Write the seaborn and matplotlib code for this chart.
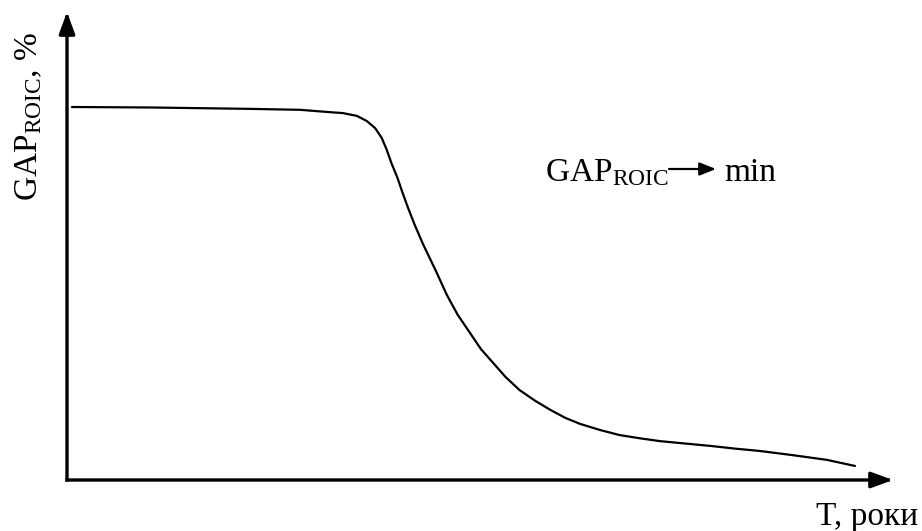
import matplotlib
matplotlib.use("Agg")
import matplotlib.pyplot as plt
from matplotlib.patches import FancyArrowPatch
import seaborn as sns
import pandas as pd

# крива GAP_ROIC у часі (умовні одиниці)
t_years = [0.06, 1.00, 2.22, 2.82, 3.18, 3.34, 3.51, 3.63, 3.73, 3.81, 3.87,
           3.93, 4.00, 4.06, 4.13, 4.21, 4.31, 4.46, 4.60, 4.73, 4.88, 5.01,
           5.16, 5.31, 5.48, 5.67, 5.85, 6.03, 6.21, 6.45, 6.69, 6.94, 7.18,
           7.48, 7.78, 8.09, 8.39, 8.79, 9.20, 9.54]
gap_roic = [7.97, 7.96, 7.93, 7.91, 7.86, 7.84, 7.78, 7.67, 7.52, 7.31, 7.06,
            6.76, 6.46, 6.15, 5.81, 5.45, 5.04, 4.49, 3.95, 3.53, 3.14, 2.80,
            2.50, 2.20, 1.92, 1.69, 1.50, 1.33, 1.20, 1.07, 0.96, 0.89, 0.83,
            0.78, 0.73, 0.67, 0.62, 0.53, 0.43, 0.30]

ylabel_text = r"GAP$_{\mathrm{ROIC}}$, %"
xlabel_text = "T, роки"
goal_left = r"GAP$_{\mathrm{ROIC}}$"
goal_right = "min"

df = pd.DataFrame({"T": t_years, "GAP": gap_roic})

sns.set_theme(style="white")
plt.rcParams["font.family"] = ["Liberation Serif", "DejaVu Serif"]
plt.rcParams["text.color"] = "black"
plt.rcParams["mathtext.fontset"] = "custom"
plt.rcParams["mathtext.rm"] = "Liberation Serif"
plt.rcParams["mathtext.it"] = "Liberation Serif:italic"

W, H = 922, 531
fig = plt.figure(figsize=(W / 100, H / 100), dpi=100)
ax = fig.add_axes([67 / W, 51 / H, (893 - 67) / W, (480 - 12) / H])

line = sns.lineplot(data=df, x="T", y="GAP", color="black", linewidth=1.6,
                    sort=False, ax=ax)
ax.lines[0].set_solid_joinstyle("round")
ax.set_xlim(0, 10)
ax.set_ylim(0, 10)
ax.set_xticks([])
ax.set_yticks([])
ax.set_xlabel("")
ax.set_ylabel("")
for s in ax.spines.values():
    s.set_visible(False)

# осі зі стрілками
arrow = dict(arrowstyle="-|>,head_length=0.6,head_width=0.22",
             lw=2.4, color="black", mutation_scale=22,
             shrinkA=0, shrinkB=0, capstyle="projecting")
ax.annotate("", xy=(1, 0), xytext=(0, 0), xycoords="axes fraction",
            arrowprops=arrow, annotation_clip=False)
ax.annotate("", xy=(0, 1), xytext=(0, 0), xycoords="axes fraction",
            arrowprops=arrow, annotation_clip=False)

# підписи
fig.text(37 / W, 1 - 117 / H, ylabel_text, rotation=90, fontsize=24,
         ha="center", va="baseline", rotation_mode="anchor")
fig.text(918 / W, 1 - 525 / H, xlabel_text, fontsize=24,
         ha="right", va="baseline")

# GAP_ROIC -> min
fig.text(545 / W, 1 - 181 / H, goal_left, fontsize=24,
         ha="left", va="baseline")
fig.text(724 / W, 1 - 181 / H, goal_right, fontsize=24,
         ha="left", va="baseline")
small = dict(arrowstyle="-|>,head_length=0.55,head_width=0.22",
             lw=1.6, color="black", mutation_scale=18,
             shrinkA=0, shrinkB=0)
fig.add_artist(FancyArrowPatch((669 / W, 1 - 169 / H), (716 / W, 1 - 169 / H),
                               transform=fig.transFigure, **small))

fig.savefig("out.png", dpi=100)
